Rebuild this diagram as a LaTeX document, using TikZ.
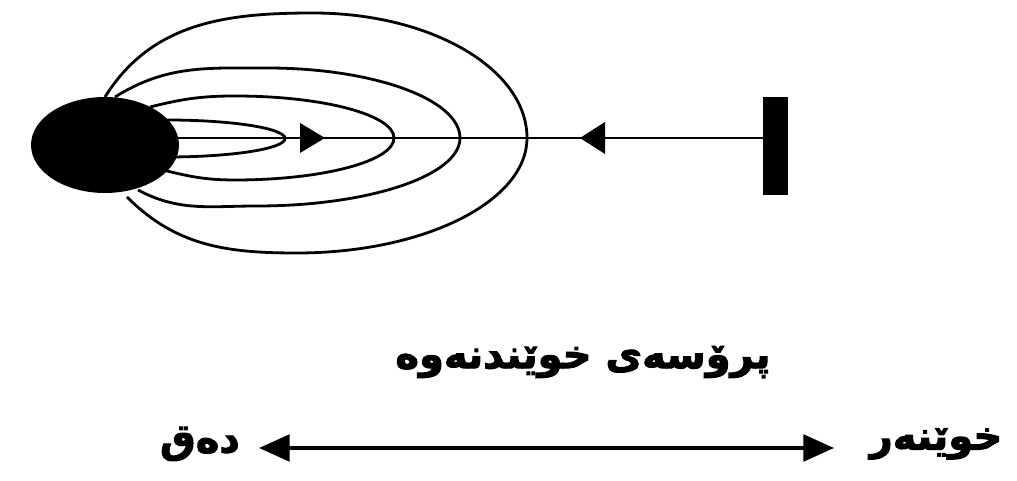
\documentclass[tikz,border=0pt]{standalone}
\usepackage{fontspec}
\usetikzlibrary{shapes.geometric,arrows.meta}
\TeXXeTstate=1
\newfontfamily\kufont[Script=Arabic,FakeBold=2.5]{DejaVu Sans Bold}
\begin{document}
\begin{tikzpicture}[x=0.75pt,y=0.75pt,
  loop/.style={line width=2.1pt},
  axisline/.style={line width=1.8pt},
  headtri/.style={fill=black},
  lbl/.style={font=\kufont\fontsize{30}{34}\selectfont, inner sep=0pt}]
\useasboundingbox (0,0) rectangle (1017,481);
% field loops
\draw[loop] (105,384) to[out=58,in=180] (313,468)
   arc[start angle=90,end angle=0,x radius=214,y radius=125]
   arc[start angle=0,end angle=-90,x radius=230,y radius=115]
   to[out=180,in=-45] (127,284);
\draw[loop] (115,384) to[out=32,in=180] (267,413)
   arc[start angle=90,end angle=0,x radius=193,y radius=70]
   arc[start angle=0,end angle=-90,x radius=203,y radius=68]
   to[out=180,in=-28] (138,291);
\draw[loop] (150,374) to[out=14,in=180] (235,385)
   arc[start angle=90,end angle=0,x radius=159,y radius=42]
   arc[start angle=0,end angle=-90,x radius=159,y radius=42]
   to[out=180,in=-14] (163,311);
\draw[loop] (160,361) -- (167,361)
   arc[start angle=90,end angle=-90,x radius=118,y radius=18.5] -- (160,324);
% source and reflector
\node[ellipse, fill=black, minimum width=111pt, minimum height=72pt, inner sep=0pt] (src) at (105,336) {};
\node[rectangle, fill=black, minimum width=19pt, minimum height=73.5pt, inner sep=0pt] (bar) at (775.5,335) {};
\coordinate (axL) at (170,343);
\coordinate (axR) at (bar.west |- axL);
\draw[axisline] (axL) -- (axR);
\fill[headtri] (325,343) -- (300,358) -- (300,328) -- cycle;
\fill[headtri] (580,343) -- (605,359) -- (605,327) -- cycle;
% texts
\node[lbl] (title) at (583,119) {\beginR پرۆسەی خوێندنەوە\endR};
\node[lbl] (dq) at (200,37) {\beginR دەق\endR};
\node[lbl] (rd) at (936,37) {\beginR خوێنەر\endR};
\coordinate (tipL) at (259,33);
\coordinate (tipR) at (834,33);
\draw[line width=2.6pt, {Triangle[length=23pt,width=20pt]}-{Triangle[length=23pt,width=20pt]}] (tipL) -- (tipR);
\end{tikzpicture}
\end{document}
